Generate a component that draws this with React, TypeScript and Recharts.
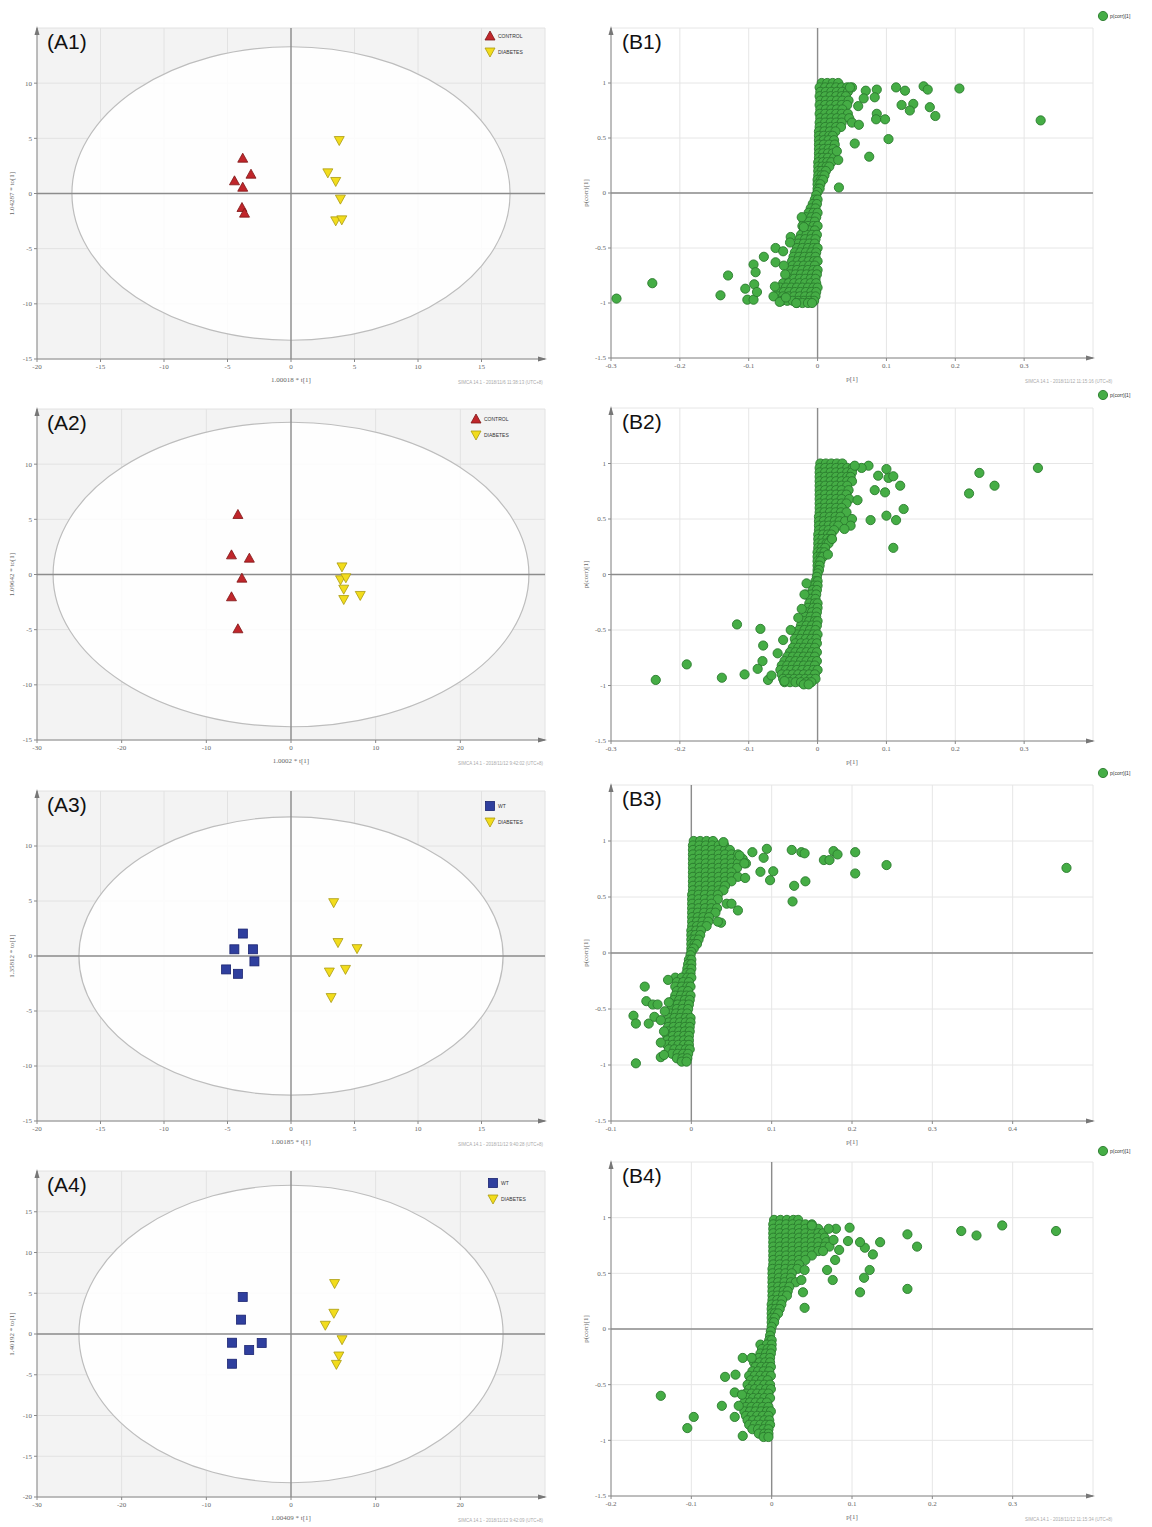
import React from 'react';
import {
  ScatterChart,
  Scatter,
  XAxis,
  YAxis,
  CartesianGrid,
  ReferenceLine,
  ReferenceArea,
  ReferenceDot,
} from 'recharts';

// ---- score plots (A panels) ----
const a1Control = [[-3.8, 3.2], [-3.15, 1.75], [-4.45, 1.15], [-3.8, 0.57], [-3.86, -1.27], [-3.66, -1.78]];
const a1Diabetes = [[3.8, 4.8], [2.9, 1.87], [3.52, 1.09], [3.89, -0.51], [3.52, -2.48], [4.0, -2.39]];
const a2Control = [[-6.27, 5.44], [-7.03, 1.78], [-4.92, 1.48], [-5.8, -0.33], [-7.03, -2.02], [-6.27, -4.92]];
const a2Diabetes = [[6.02, 0.69], [5.85, -0.48], [6.48, -0.3], [6.23, -1.33], [6.23, -2.27], [8.18, -1.9]];
const a3Wt = [[-3.79, 2.04], [-4.46, 0.61], [-2.99, 0.61], [-2.88, -0.49], [-5.11, -1.22], [-4.18, -1.62]];
const a3Diabetes = [[3.36, 4.85], [3.7, 1.22], [5.2, 0.67], [3.02, -1.46], [4.29, -1.22], [3.16, -3.78]];
const a4Wt = [[-5.7, 4.55], [-5.9, 1.76], [-6.96, -1.07], [-3.46, -1.1], [-4.94, -1.97], [-6.96, -3.65]];
const a4Diabetes = [[5.15, 6.19], [5.06, 2.54], [4.05, 1.07], [6.03, -0.7], [5.65, -2.7], [5.36, -3.73]];

// T2 ellipse half-axes [t, to]
const a1Ellipse = [17.25, 13.3];
const a2Ellipse = [28.1, 13.8];
const a3Ellipse = [16.7, 12.65];
const a4Ellipse = [25.05, 18.25];

const ticks20 = [-20, -15, -10, -5, 0, 5, 10, 15];
const ticks30 = [-30, -20, -10, 0, 10, 20];
const ticks15 = [-15, -10, -5, 0, 5, 10];
const ticks20y = [-20, -15, -10, -5, 0, 5, 10, 15];

// ---- S-plots (B panels): dense rows [p(corr), p values] + single outliers [p, p(corr)] ----
const b1Up: [number, number[]][] = [
  [1.0, [0.006, 0.014, 0.022, 0.03]],
  [0.96, [0.003, 0.011, 0.019, 0.027, 0.035, 0.043, 0.05]],
  [0.92, [0.004, 0.012, 0.02, 0.028, 0.036, 0.044]],
  [0.88, [0.003, 0.011, 0.019, 0.027, 0.035, 0.041]],
  [0.84, [0.004, 0.012, 0.02, 0.028, 0.036, 0.045]],
  [0.8, [0.003, 0.011, 0.019, 0.027, 0.035, 0.043]],
  [0.76, [0.004, 0.012, 0.02, 0.028, 0.036]],
  [0.72, [0.003, 0.011, 0.019, 0.027, 0.035, 0.044]],
  [0.68, [0.004, 0.012, 0.02, 0.028, 0.036, 0.046]],
  [0.64, [0.003, 0.011, 0.019, 0.027, 0.035, 0.05]],
  [0.6, [0.003, 0.011, 0.019, 0.027, 0.034]],
  [0.56, [0.002, 0.01, 0.018, 0.026]],
  [0.52, [0.002, 0.009, 0.017, 0.022]],
  [0.48, [0.002, 0.009, 0.016, 0.024]],
  [0.44, [0.002, 0.009, 0.017, 0.025]],
  [0.4, [0.002, 0.009, 0.016, 0.023]],
  [0.36, [0.002, 0.008, 0.015, 0.022]],
  [0.32, [0.002, 0.008, 0.015, 0.024]],
  [0.28, [0.001, 0.008, 0.014, 0.02]],
  [0.24, [0.001, 0.007, 0.013, 0.017]],
  [0.2, [0.001, 0.006, 0.012]],
  [0.16, [0.001, 0.006, 0.01]],
  [0.12, [0.0, 0.005, 0.008]],
  [0.08, [0.0, 0.004]],
  [0.04, [0.0, 0.003]],
  [0.01, [0.0]],
];
const b1Down: [number, number[]][] = [
  [-0.02, [-0.002]],
  [-0.06, [-0.004, 0.0]],
  [-0.1, [-0.007, -0.001]],
  [-0.14, [-0.01, -0.003]],
  [-0.18, [-0.013, -0.006, 0.0]],
  [-0.22, [-0.017, -0.009, -0.002]],
  [-0.26, [-0.02, -0.012, -0.004]],
  [-0.3, [-0.022, -0.014, -0.006, 0.0]],
  [-0.34, [-0.02, -0.012, -0.004]],
  [-0.38, [-0.024, -0.016, -0.008, -0.001]],
  [-0.42, [-0.026, -0.018, -0.01, -0.003]],
  [-0.46, [-0.028, -0.02, -0.012, -0.004]],
  [-0.5, [-0.03, -0.022, -0.014, -0.006, 0.0]],
  [-0.54, [-0.033, -0.025, -0.017, -0.009, -0.002]],
  [-0.58, [-0.035, -0.027, -0.019, -0.011, -0.003]],
  [-0.62, [-0.037, -0.029, -0.021, -0.013, -0.005, 0.0]],
  [-0.66, [-0.036, -0.028, -0.02, -0.012, -0.004]],
  [-0.7, [-0.038, -0.03, -0.022, -0.014, -0.006, 0.0]],
  [-0.74, [-0.04, -0.032, -0.024, -0.016, -0.008, -0.001]],
  [-0.78, [-0.042, -0.034, -0.026, -0.018, -0.01, -0.003]],
  [-0.82, [-0.05, -0.042, -0.034, -0.026, -0.018, -0.01, -0.002]],
  [-0.86, [-0.054, -0.046, -0.038, -0.03, -0.022, -0.014, -0.006, 0.0]],
  [-0.9, [-0.057, -0.049, -0.041, -0.033, -0.025, -0.017, -0.009, -0.002]],
  [-0.94, [-0.058, -0.05, -0.042, -0.034, -0.026, -0.018, -0.01, -0.003]],
  [-0.98, [-0.052, -0.044, -0.036, -0.028, -0.02, -0.012, -0.005]],
  [-1.0, [-0.03, -0.022, -0.014, -0.008]],
];
const b1Out = [
  [0.324, 0.66], [0.206, 0.95], [0.154, 0.97], [0.16, 0.94], [0.114, 0.96], [0.127, 0.93], [0.122, 0.8],
  [0.139, 0.81], [0.134, 0.75], [0.163, 0.78], [0.171, 0.7], [0.103, 0.49], [0.098, 0.67], [0.086, 0.72],
  [0.085, 0.67], [0.086, 0.94], [0.083, 0.87], [0.07, 0.93], [0.067, 0.86], [0.059, 0.79], [0.054, 0.45],
  [0.075, 0.33], [0.031, 0.05], [0.06, 0.62], [0.047, 0.96], [0.03, 0.3], [0.028, 0.38],
  [-0.292, -0.96], [-0.24, -0.82], [-0.141, -0.93], [-0.13, -0.75], [-0.105, -0.87], [-0.102, -0.97],
  [-0.093, -0.97], [-0.093, -0.65], [-0.09, -0.72], [-0.092, -0.83], [-0.088, -0.9], [-0.078, -0.58],
  [-0.061, -0.5], [-0.061, -0.63], [-0.05, -0.53], [-0.039, -0.4], [-0.04, -0.45], [-0.049, -0.66],
  [-0.047, -0.74], [-0.062, -0.85], [-0.064, -0.94], [-0.055, -0.99], [-0.046, -0.95], [-0.031, -1.0],
  [-0.023, -0.22], [-0.02, -0.31],
];

const b2Up: [number, number[]][] = [
  [1.0, [0.004, 0.012, 0.02, 0.028, 0.036]],
  [0.96, [0.003, 0.011, 0.019, 0.027, 0.035, 0.043, 0.051]],
  [0.92, [0.003, 0.011, 0.019, 0.027, 0.035, 0.043, 0.05]],
  [0.88, [0.003, 0.011, 0.019, 0.027, 0.035, 0.043, 0.048]],
  [0.84, [0.003, 0.011, 0.019, 0.027, 0.035, 0.043, 0.05]],
  [0.8, [0.003, 0.011, 0.019, 0.027, 0.035, 0.043]],
  [0.76, [0.003, 0.011, 0.019, 0.027, 0.035, 0.045]],
  [0.72, [0.003, 0.011, 0.019, 0.027, 0.035, 0.042]],
  [0.68, [0.003, 0.011, 0.019, 0.027, 0.035, 0.046]],
  [0.64, [0.003, 0.011, 0.019, 0.027, 0.035, 0.042]],
  [0.6, [0.003, 0.011, 0.019, 0.027, 0.035]],
  [0.56, [0.003, 0.01, 0.018, 0.026, 0.034, 0.042]],
  [0.52, [0.002, 0.01, 0.018, 0.026, 0.033]],
  [0.48, [0.002, 0.009, 0.017, 0.025, 0.032, 0.04]],
  [0.44, [0.002, 0.009, 0.016, 0.024, 0.03]],
  [0.4, [0.002, 0.009, 0.016, 0.024]],
  [0.36, [0.001, 0.008, 0.015, 0.02]],
  [0.32, [0.001, 0.007, 0.014, 0.02]],
  [0.28, [0.001, 0.007, 0.013, 0.016]],
  [0.24, [0.001, 0.006, 0.011]],
  [0.2, [0.0, 0.005, 0.01]],
  [0.16, [0.0, 0.005, 0.008]],
  [0.12, [0.0, 0.004]],
  [0.08, [0.0, 0.003]],
  [0.04, [0.0, 0.002]],
  [0.01, [0.0]],
];
const b2Down: [number, number[]][] = [
  [-0.02, [-0.001]],
  [-0.06, [-0.003, 0.0]],
  [-0.1, [-0.005, 0.0]],
  [-0.14, [-0.007, -0.001]],
  [-0.18, [-0.017, -0.009, -0.002]],
  [-0.22, [-0.01, -0.003]],
  [-0.26, [-0.012, -0.004, 0.0]],
  [-0.3, [-0.014, -0.006, 0.0]],
  [-0.34, [-0.016, -0.008, -0.001]],
  [-0.38, [-0.018, -0.01, -0.002]],
  [-0.42, [-0.02, -0.012, -0.004, 0.0]],
  [-0.46, [-0.024, -0.016, -0.008, -0.001]],
  [-0.5, [-0.027, -0.019, -0.011, -0.003]],
  [-0.54, [-0.03, -0.022, -0.014, -0.006, 0.0]],
  [-0.58, [-0.033, -0.025, -0.017, -0.009, -0.002]],
  [-0.62, [-0.032, -0.024, -0.016, -0.008, -0.001]],
  [-0.66, [-0.036, -0.028, -0.02, -0.012, -0.004]],
  [-0.7, [-0.04, -0.032, -0.024, -0.016, -0.008, -0.001]],
  [-0.74, [-0.044, -0.036, -0.028, -0.02, -0.012, -0.004]],
  [-0.78, [-0.048, -0.04, -0.032, -0.024, -0.016, -0.008, -0.001]],
  [-0.82, [-0.052, -0.044, -0.036, -0.028, -0.02, -0.012, -0.004]],
  [-0.86, [-0.054, -0.046, -0.038, -0.03, -0.022, -0.014, -0.006, 0.0]],
  [-0.9, [-0.052, -0.044, -0.036, -0.028, -0.02, -0.012, -0.004]],
  [-0.94, [-0.05, -0.042, -0.034, -0.026, -0.018, -0.01, -0.003]],
  [-0.97, [-0.048, -0.04, -0.032, -0.024, -0.016, -0.009]],
  [-0.99, [-0.02, -0.013]],
];
const b2Out = [
  [0.32, 0.96], [0.235, 0.915], [0.257, 0.8], [0.22, 0.73], [0.1, 0.95], [0.088, 0.89], [0.103, 0.87],
  [0.11, 0.885], [0.12, 0.8], [0.083, 0.76], [0.098, 0.74], [0.125, 0.59], [0.1, 0.53], [0.114, 0.49],
  [0.077, 0.49], [0.11, 0.24], [0.074, 0.98], [0.064, 0.96], [0.054, 0.98], [0.058, 0.67], [0.05, 0.5],
  [0.048, 0.44], [0.039, 0.41], [0.015, 0.18], [0.021, 0.32],
  [-0.235, -0.95], [-0.19, -0.81], [-0.139, -0.93], [-0.117, -0.45], [-0.106, -0.9], [-0.083, -0.49],
  [-0.079, -0.64], [-0.08, -0.78], [-0.087, -0.85], [-0.072, -0.95], [-0.067, -0.91], [-0.05, -0.59],
  [-0.039, -0.5], [-0.028, -0.39], [-0.023, -0.31], [-0.019, -0.18], [-0.016, -0.08], [-0.058, -0.71],
  [-0.048, -0.96],
];

const b3Up: [number, number[]][] = [
  [1.0, [0.003, 0.011, 0.019, 0.027]],
  [0.96, [0.002, 0.01, 0.018, 0.026, 0.034, 0.041]],
  [0.92, [0.002, 0.01, 0.018, 0.026, 0.034, 0.042, 0.048]],
  [0.88, [0.002, 0.01, 0.018, 0.026, 0.034, 0.042, 0.05, 0.058]],
  [0.84, [0.002, 0.01, 0.018, 0.026, 0.034, 0.042, 0.05, 0.058, 0.064]],
  [0.8, [0.002, 0.01, 0.018, 0.026, 0.034, 0.042, 0.05, 0.058, 0.068]],
  [0.76, [0.002, 0.01, 0.018, 0.026, 0.034, 0.042, 0.05, 0.057]],
  [0.72, [0.002, 0.01, 0.018, 0.026, 0.034, 0.042, 0.05]],
  [0.68, [0.002, 0.01, 0.018, 0.026, 0.034, 0.042, 0.05, 0.058]],
  [0.64, [0.002, 0.01, 0.018, 0.026, 0.034, 0.042, 0.05]],
  [0.6, [0.002, 0.01, 0.018, 0.026, 0.034, 0.042]],
  [0.56, [0.002, 0.01, 0.018, 0.026, 0.034, 0.04]],
  [0.52, [0.001, 0.009, 0.017, 0.025, 0.033]],
  [0.48, [0.001, 0.009, 0.017, 0.025, 0.033]],
  [0.44, [0.001, 0.009, 0.017, 0.025, 0.044, 0.05]],
  [0.4, [0.001, 0.009, 0.017, 0.025, 0.032]],
  [0.36, [0.001, 0.008, 0.016, 0.024, 0.03]],
  [0.32, [0.001, 0.008, 0.015, 0.022]],
  [0.28, [0.001, 0.007, 0.014, 0.021]],
  [0.24, [0.001, 0.007, 0.013, 0.019]],
  [0.2, [0.0, 0.006, 0.012]],
  [0.16, [0.0, 0.005, 0.011]],
  [0.12, [0.0, 0.004, 0.009]],
  [0.08, [0.0, 0.004, 0.007]],
  [0.04, [0.0, 0.003]],
  [0.01, [0.0]],
];
const b3Down: [number, number[]][] = [
  [-0.02, [-0.001]],
  [-0.06, [-0.003, 0.0]],
  [-0.1, [-0.004, 0.0]],
  [-0.14, [-0.005, 0.0]],
  [-0.18, [-0.006, -0.001]],
  [-0.22, [-0.02, -0.012, -0.005, 0.0]],
  [-0.26, [-0.018, -0.01, -0.003]],
  [-0.3, [-0.02, -0.012, -0.005, -0.001]],
  [-0.34, [-0.018, -0.011, -0.004]],
  [-0.38, [-0.02, -0.013, -0.006, -0.001]],
  [-0.42, [-0.022, -0.015, -0.008, -0.002]],
  [-0.46, [-0.024, -0.017, -0.01, -0.003]],
  [-0.5, [-0.025, -0.018, -0.011, -0.004]],
  [-0.54, [-0.026, -0.019, -0.012, -0.005]],
  [-0.58, [-0.028, -0.021, -0.014, -0.007, -0.001]],
  [-0.62, [-0.028, -0.021, -0.014, -0.007, -0.001]],
  [-0.66, [-0.029, -0.022, -0.015, -0.008, -0.002]],
  [-0.7, [-0.029, -0.022, -0.015, -0.008, -0.002]],
  [-0.74, [-0.03, -0.023, -0.016, -0.009, -0.003]],
  [-0.78, [-0.03, -0.023, -0.016, -0.009, -0.003]],
  [-0.82, [-0.03, -0.023, -0.016, -0.009, -0.003]],
  [-0.86, [-0.028, -0.021, -0.014, -0.007, -0.002]],
  [-0.9, [-0.024, -0.017, -0.01, -0.004]],
  [-0.94, [-0.018, -0.011, -0.005]],
  [-0.97, [-0.012, -0.006]],
];
const b3Out = [
  [0.467, 0.76], [0.243, 0.785], [0.204, 0.9], [0.204, 0.71], [0.177, 0.91], [0.182, 0.88], [0.165, 0.83],
  [0.172, 0.83], [0.125, 0.92], [0.137, 0.9], [0.141, 0.89], [0.094, 0.93], [0.076, 0.9], [0.09, 0.85],
  [0.086, 0.725], [0.102, 0.73], [0.098, 0.65], [0.128, 0.6], [0.142, 0.64], [0.126, 0.46], [0.058, 0.38],
  [0.037, 0.27], [0.033, 0.28], [0.067, 0.67], [0.06, 0.87], [0.04, 0.99], [0.066, 0.8],
  [-0.069, -0.985], [-0.072, -0.56], [-0.069, -0.63], [-0.058, -0.3], [-0.056, -0.43], [-0.053, -0.63],
  [-0.048, -0.46], [-0.042, -0.46], [-0.046, -0.57], [-0.038, -0.6], [-0.038, -0.8], [-0.038, -0.93],
  [-0.034, -0.91], [-0.029, -0.24], [-0.028, -0.44], [-0.033, -0.52], [-0.034, -0.7],
];

const b4Up: [number, number[]][] = [
  [0.98, [0.003, 0.011, 0.019, 0.027, 0.033]],
  [0.94, [0.002, 0.01, 0.018, 0.026, 0.034, 0.042, 0.05]],
  [0.9, [0.002, 0.01, 0.018, 0.026, 0.034, 0.042, 0.05, 0.058]],
  [0.86, [0.002, 0.01, 0.018, 0.026, 0.034, 0.042, 0.05, 0.058, 0.064]],
  [0.82, [0.002, 0.01, 0.018, 0.026, 0.034, 0.042, 0.05, 0.058, 0.066]],
  [0.78, [0.002, 0.01, 0.018, 0.026, 0.034, 0.042, 0.05, 0.058, 0.068]],
  [0.74, [0.002, 0.01, 0.018, 0.026, 0.034, 0.042, 0.05, 0.058, 0.066, 0.072]],
  [0.7, [0.002, 0.01, 0.018, 0.026, 0.034, 0.042, 0.05, 0.058, 0.064]],
  [0.66, [0.002, 0.01, 0.018, 0.026, 0.034, 0.042, 0.05]],
  [0.62, [0.002, 0.01, 0.018, 0.026, 0.034, 0.042]],
  [0.58, [0.002, 0.01, 0.018, 0.026, 0.034]],
  [0.54, [0.001, 0.009, 0.017, 0.025, 0.032]],
  [0.5, [0.001, 0.009, 0.017, 0.025]],
  [0.46, [0.001, 0.009, 0.017, 0.024]],
  [0.42, [0.001, 0.008, 0.016, 0.024, 0.03]],
  [0.38, [0.001, 0.008, 0.015, 0.022]],
  [0.34, [0.001, 0.008, 0.015, 0.02]],
  [0.3, [0.001, 0.007, 0.014, 0.019]],
  [0.26, [0.001, 0.007, 0.013]],
  [0.22, [0.0, 0.006, 0.012]],
  [0.18, [0.0, 0.005, 0.01]],
  [0.14, [0.0, 0.004, 0.008]],
  [0.1, [0.0, 0.004]],
  [0.06, [0.0, 0.003]],
  [0.02, [0.0]],
];
const b4Down: [number, number[]][] = [
  [-0.02, [-0.001]],
  [-0.06, [-0.002]],
  [-0.1, [-0.003, 0.0]],
  [-0.14, [-0.014, -0.006, 0.0]],
  [-0.18, [-0.012, -0.005, 0.0]],
  [-0.22, [-0.014, -0.007, -0.001]],
  [-0.26, [-0.024, -0.016, -0.009, -0.002]],
  [-0.3, [-0.022, -0.015, -0.008, -0.002]],
  [-0.34, [-0.02, -0.013, -0.006, -0.001]],
  [-0.38, [-0.024, -0.017, -0.01, -0.003]],
  [-0.42, [-0.028, -0.021, -0.014, -0.007, -0.001]],
  [-0.46, [-0.026, -0.019, -0.012, -0.005]],
  [-0.5, [-0.03, -0.023, -0.016, -0.009, -0.002]],
  [-0.54, [-0.028, -0.021, -0.014, -0.007, -0.001]],
  [-0.58, [-0.032, -0.025, -0.018, -0.011, -0.004]],
  [-0.62, [-0.03, -0.023, -0.016, -0.009, -0.002]],
  [-0.66, [-0.034, -0.027, -0.02, -0.013, -0.006]],
  [-0.7, [-0.032, -0.025, -0.018, -0.011, -0.004]],
  [-0.74, [-0.034, -0.027, -0.02, -0.013, -0.006, -0.001]],
  [-0.78, [-0.032, -0.025, -0.018, -0.011, -0.004]],
  [-0.82, [-0.03, -0.023, -0.016, -0.009, -0.003]],
  [-0.86, [-0.028, -0.021, -0.014, -0.007, -0.002]],
  [-0.9, [-0.024, -0.017, -0.01, -0.004]],
  [-0.94, [-0.016, -0.009, -0.004]],
  [-0.97, [-0.01, -0.004]],
];
const b4Out = [
  [0.354, 0.88], [0.287, 0.93], [0.255, 0.84], [0.236, 0.88], [0.169, 0.85], [0.181, 0.74], [0.169, 0.36],
  [0.135, 0.78], [0.126, 0.67], [0.116, 0.73], [0.11, 0.78], [0.122, 0.53], [0.115, 0.46], [0.11, 0.33],
  [0.097, 0.91], [0.095, 0.79], [0.08, 0.9], [0.071, 0.9], [0.077, 0.8], [0.084, 0.71], [0.079, 0.62],
  [0.069, 0.53], [0.076, 0.44], [0.041, 0.19], [0.039, 0.33], [0.037, 0.44], [0.041, 0.53], [0.05, 0.93],
  [-0.138, -0.6], [-0.097, -0.79], [-0.105, -0.89], [-0.062, -0.69], [-0.058, -0.43], [-0.045, -0.41],
  [-0.046, -0.79], [-0.036, -0.96], [-0.046, -0.57], [-0.037, -0.59], [-0.036, -0.26], [-0.025, -0.26],
  [-0.041, -0.69],
];

const pTicksB12 = [-0.3, -0.2, -0.1, 0, 0.1, 0.2, 0.3];
const pTicksB3 = [-0.1, 0, 0.1, 0.2, 0.3, 0.4];
const pTicksB4 = [-0.2, -0.1, 0, 0.1, 0.2, 0.3];
const corrTicks = [-1.5, -1, -0.5, 0, 0.5, 1];

const toPts = (a: number[][]) => a.map(([x, y]) => ({ x, y }));
const rowsToPts = (rows: [number, number[]][]) => rows.flatMap(([y, xs]) => xs.map((x) => ({ x, y })));

const FONT = '"Liberation Sans", Arial, sans-serif';
const tickStyle = { fontSize: 7, fill: '#666' };
const titleStyle = { fontSize: 7, fill: '#666', textAnchor: 'middle' as const };

const TriUp = (p: any) => (
  <polygon
    points={`${p.cx},${p.cy - 5} ${p.cx + 5},${p.cy + 4} ${p.cx - 5},${p.cy + 4}`}
    fill="#c0262b"
    stroke="#7d1515"
    strokeWidth={0.8}
  />
);
const TriDown = (p: any) => (
  <polygon
    points={`${p.cx - 5},${p.cy - 4} ${p.cx + 5},${p.cy - 4} ${p.cx},${p.cy + 5}`}
    fill="#f2dc1c"
    stroke="#a99a10"
    strokeWidth={0.8}
  />
);
const Square = (p: any) => (
  <rect x={p.cx - 4.5} y={p.cy - 4.5} width={9} height={9} fill="#2f3f9e" stroke="#1a2370" strokeWidth={0.8} />
);
const GreenDot = (p: any) => (
  <circle cx={p.cx} cy={p.cy} r={4.6} fill="#45ad45" stroke="#2a7a2e" strokeWidth={0.9} />
);
const ArrowRight = (p: any) => (
  <polygon points={`${p.cx + 2},${p.cy} ${p.cx - 7},${p.cy - 2.5} ${p.cx - 7},${p.cy + 2.5}`} fill="#777" />
);
const ArrowUp = (p: any) => (
  <polygon points={`${p.cx},${p.cy - 2} ${p.cx - 2.5},${p.cy + 7} ${p.cx + 2.5},${p.cy + 7}`} fill="#777" />
);

type Group = { name: string; data: number[][]; shape: any };

function LegendBox({ left, top, items }: { left: number; top: number; items: { name: string; shape: any }[] }) {
  return (
    <svg style={{ position: 'absolute', left, top }} width={70} height={items.length * 16}>
      {items.map((it, i) => (
        <g key={it.name}>
          {it.shape({ cx: 6, cy: 6 + i * 16 })}
          <text x={14} y={8 + i * 16} fontSize={5} fill="#333" fontFamily={FONT}>
            {it.name}
          </text>
        </g>
      ))}
    </svg>
  );
}

function ScorePanel(p: {
  tag: string;
  plotTop: number;
  plotH: number;
  xDomain: number[];
  xTicks: number[];
  yDomain: number[];
  yTicks: number[];
  ellipse: number[];
  groups: Group[];
  xLabel: string;
  yLabel: string;
  footer: string;
  legendAt: number[];
}) {
  const [xmin, xmax] = p.xDomain;
  const [ymin, ymax] = p.yDomain;
  const [rx, ry] = p.ellipse;
  return (
    <>
      <div style={{ position: 'absolute', left: 0, top: p.plotTop - 10 }}>
        <ScatterChart width={560} height={p.plotH + 43} margin={{ top: 10, right: 15, bottom: 10, left: 10 }}>
          <CartesianGrid fill="#f3f3f3" stroke="#e2e2e2" />
          <XAxis
            type="number"
            dataKey="x"
            domain={[xmin, xmax]}
            ticks={p.xTicks}
            interval={0}
            tick={tickStyle}
            tickSize={3}
            tickLine={{ stroke: '#888' }}
            axisLine={{ stroke: '#888' }}
            height={23}
            label={{ value: p.xLabel, position: 'insideBottom', offset: 0, style: titleStyle }}
          />
          <YAxis
            type="number"
            dataKey="y"
            domain={[ymin, ymax]}
            ticks={p.yTicks}
            interval={0}
            width={27}
            tick={tickStyle}
            tickSize={3}
            tickLine={{ stroke: '#888' }}
            axisLine={{ stroke: '#888' }}
            label={{ value: p.yLabel, angle: -90, position: 'insideLeft', offset: 2, style: titleStyle }}
          />
          <ReferenceArea
            x1={-rx}
            x2={rx}
            y1={-ry}
            y2={ry}
            shape={(s: any) => (
              <ellipse
                cx={s.x + s.width / 2}
                cy={s.y + s.height / 2}
                rx={Math.abs(s.width) / 2}
                ry={Math.abs(s.height) / 2}
                fill="#ffffff"
                fillOpacity={0.85}
                stroke="#bdbdbd"
                strokeWidth={1.2}
              />
            )}
          />
          <ReferenceLine x={0} stroke="#8c8c8c" strokeWidth={1.4} />
          <ReferenceLine y={0} stroke="#8c8c8c" strokeWidth={1.4} />
          <ReferenceDot x={xmax} y={ymin} shape={ArrowRight} />
          <ReferenceDot x={xmin} y={ymax} shape={ArrowUp} />
          {p.groups.map((g) => (
            <Scatter key={g.name} name={g.name} data={toPts(g.data)} shape={g.shape} isAnimationActive={false} />
          ))}
        </ScatterChart>
      </div>
      <div style={{ position: 'absolute', left: 47, top: p.plotTop + 2, fontSize: 21, fontFamily: FONT, color: '#111' }}>
        {p.tag}
      </div>
      <LegendBox left={p.legendAt[0]} top={p.legendAt[1]} items={p.groups} />
      <div
        style={{ position: 'absolute', left: 458, top: p.plotTop + p.plotH + 21, fontSize: 4.5, fontFamily: FONT, color: '#aaa', whiteSpace: 'nowrap' }}
      >
        {p.footer}
      </div>
    </>
  );
}

function SPlot(p: {
  tag: string;
  plotTop: number;
  plotH: number;
  xDomain: number[];
  xTicks: number[];
  points: { x: number; y: number }[];
  footer: string;
  legendTop: number;
}) {
  const [xmin, xmax] = p.xDomain;
  return (
    <>
      <div style={{ position: 'absolute', left: 570, top: p.plotTop - 10 }}>
        <ScatterChart width={538} height={p.plotH + 43} margin={{ top: 10, right: 15, bottom: 10, left: 14 }}>
          <CartesianGrid stroke="#e6e6e6" />
          <XAxis
            type="number"
            dataKey="x"
            domain={[xmin, xmax]}
            ticks={p.xTicks}
            interval={0}
            tick={tickStyle}
            tickSize={3}
            tickLine={{ stroke: '#888' }}
            axisLine={{ stroke: '#888' }}
            height={23}
            label={{ value: 'p[1]', position: 'insideBottom', offset: 0, style: titleStyle }}
          />
          <YAxis
            type="number"
            dataKey="y"
            domain={[-1.5, 1.5]}
            ticks={corrTicks}
            interval={0}
            width={27}
            tick={tickStyle}
            tickSize={3}
            tickLine={{ stroke: '#888' }}
            axisLine={{ stroke: '#888' }}
            label={{ value: 'p(corr)[1]', angle: -90, position: 'insideLeft', offset: 2, style: titleStyle }}
          />
          <ReferenceLine x={0} stroke="#8c8c8c" strokeWidth={1.4} />
          <ReferenceLine y={0} stroke="#8c8c8c" strokeWidth={1.4} />
          <ReferenceDot x={xmax} y={-1.5} shape={ArrowRight} />
          <ReferenceDot x={xmin} y={1.5} shape={ArrowUp} />
          <Scatter name="p(corr)[1]" data={p.points} shape={GreenDot} isAnimationActive={false} />
        </ScatterChart>
      </div>
      <div style={{ position: 'absolute', left: 622, top: p.plotTop + 2, fontSize: 21, fontFamily: FONT, color: '#111' }}>
        {p.tag}
      </div>
      <svg style={{ position: 'absolute', left: 1096, top: p.legendTop }} width={56} height={14}>
        <GreenDot cx={7} cy={7} />
        <text x={14} y={9} fontSize={5} fill="#333" fontFamily={FONT}>
          p(corr)[1]
        </text>
      </svg>
      <div
        style={{ position: 'absolute', left: 1025, top: p.plotTop + p.plotH + 21, fontSize: 4.5, fontFamily: FONT, color: '#aaa', whiteSpace: 'nowrap' }}
      >
        {p.footer}
      </div>
    </>
  );
}

export default function App() {
  return (
    <div style={{ position: 'absolute', left: 0, top: 0, width: 1152, height: 1527, background: '#fff', overflow: 'hidden' }}>
      <ScorePanel
        tag="(A1)"
        plotTop={28}
        plotH={331}
        xDomain={[-20, 20]}
        xTicks={ticks20}
        yDomain={[-15, 15]}
        yTicks={ticks15}
        ellipse={a1Ellipse}
        groups={[
          { name: 'CONTROL', data: a1Control, shape: TriUp },
          { name: 'DIABETES', data: a1Diabetes, shape: TriDown },
        ]}
        xLabel="1.00018 * t[1]"
        yLabel="1.04287 * to[1]"
        footer="SIMCA 14.1 - 2018/11/6 11:38:13 (UTC+8)"
        legendAt={[484, 30]}
      />
      <ScorePanel
        tag="(A2)"
        plotTop={409}
        plotH={331}
        xDomain={[-30, 30]}
        xTicks={ticks30}
        yDomain={[-15, 15]}
        yTicks={ticks15}
        ellipse={a2Ellipse}
        groups={[
          { name: 'CONTROL', data: a2Control, shape: TriUp },
          { name: 'DIABETES', data: a2Diabetes, shape: TriDown },
        ]}
        xLabel="1.0002 * t[1]"
        yLabel="1.09642 * to[1]"
        footer="SIMCA 14.1 - 2018/11/12 9:42:02 (UTC+8)"
        legendAt={[470, 413]}
      />
      <ScorePanel
        tag="(A3)"
        plotTop={791}
        plotH={330}
        xDomain={[-20, 20]}
        xTicks={ticks20}
        yDomain={[-15, 15]}
        yTicks={ticks15}
        ellipse={a3Ellipse}
        groups={[
          { name: 'WT', data: a3Wt, shape: Square },
          { name: 'DIABETES', data: a3Diabetes, shape: TriDown },
        ]}
        xLabel="1.00185 * t[1]"
        yLabel="1.35812 * to[1]"
        footer="SIMCA 14.1 - 2018/11/12 9:40:28 (UTC+8)"
        legendAt={[484, 800]}
      />
      <ScorePanel
        tag="(A4)"
        plotTop={1171}
        plotH={326}
        xDomain={[-30, 30]}
        xTicks={ticks30}
        yDomain={[-20, 20]}
        yTicks={ticks20y}
        ellipse={a4Ellipse}
        groups={[
          { name: 'WT', data: a4Wt, shape: Square },
          { name: 'DIABETES', data: a4Diabetes, shape: TriDown },
        ]}
        xLabel="1.00409 * t[1]"
        yLabel="1.40192 * to[1]"
        footer="SIMCA 14.1 - 2018/11/12 9:42:09 (UTC+8)"
        legendAt={[487, 1177]}
      />
      <SPlot
        tag="(B1)"
        plotTop={28}
        plotH={330}
        xDomain={[-0.3, 0.4]}
        xTicks={pTicksB12}
        points={[...rowsToPts(b1Up), ...rowsToPts(b1Down), ...toPts(b1Out)]}
        footer="SIMCA 14.1 - 2018/11/12 11:15:16 (UTC+8)"
        legendTop={9}
      />
      <SPlot
        tag="(B2)"
        plotTop={408}
        plotH={333}
        xDomain={[-0.3, 0.4]}
        xTicks={pTicksB12}
        points={[...rowsToPts(b2Up), ...rowsToPts(b2Down), ...toPts(b2Out)]}
        footer=""
        legendTop={388}
      />
      <SPlot
        tag="(B3)"
        plotTop={785}
        plotH={336}
        xDomain={[-0.1, 0.5]}
        xTicks={pTicksB3}
        points={[...rowsToPts(b3Up), ...rowsToPts(b3Down), ...toPts(b3Out)]}
        footer=""
        legendTop={766}
      />
      <SPlot
        tag="(B4)"
        plotTop={1162}
        plotH={334}
        xDomain={[-0.2, 0.4]}
        xTicks={pTicksB4}
        points={[...rowsToPts(b4Up), ...rowsToPts(b4Down), ...toPts(b4Out)]}
        footer="SIMCA 14.1 - 2018/11/12 11:15:34 (UTC+8)"
        legendTop={1144}
      />
    </div>
  );
}
